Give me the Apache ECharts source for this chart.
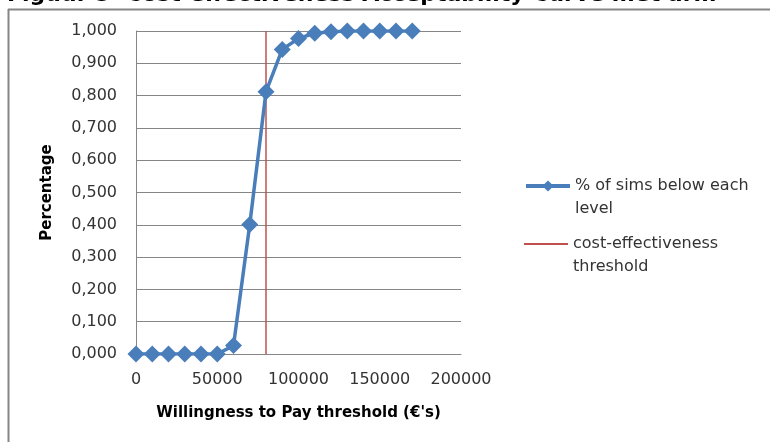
<!DOCTYPE html>
<html>
<head>
<meta charset="utf-8">
<script src="https://cdn.jsdelivr.net/npm/echarts@6/dist/echarts.min.js"></script>
<style>
  html, body { margin: 0; padding: 0; background: #fff; }
  #chart { width: 770px; height: 442px; }
</style>
</head>
<body>
<div id="chart"></div>
<script>
// willingness to pay thresholds (euro)
var wtp = [0, 10000, 20000, 30000, 40000, 50000, 60000, 70000, 80000, 90000,
           100000, 110000, 120000, 130000, 140000, 150000, 160000, 170000];
// share of simulations below each level
var pctBelow = [0, 0, 0, 0, 0, 0, 0.026, 0.401, 0.812, 0.943,
                0.977, 0.993, 0.998, 1, 1, 1, 1, 1];
var thresholdX = [80000, 80000];
var thresholdY = [0, 1];
var xTicks = [0, 50000, 100000, 150000, 200000];

var seriesNames = ['% of sims below each level', 'cost-effectiveness threshold'];
// leading empty line keeps the first text line level with the legend icon
var legendText = {};
legendText[seriesNames[0]] = '\n% of sims below each\nlevel';
legendText[seriesNames[1]] = '\ncost-effectiveness\nthreshold';

var fontName = 'DejaVu Sans';
var txtColor = '#333';

var myChart = echarts.init(document.getElementById('chart'), null, { renderer: 'canvas' });

function legendFor(name, top, icon, h, lw) {
    return {
        data: [{ name: name, icon: icon }],
        left: 524,
        top: top,
        padding: 0,
        itemWidth: 44,
        itemHeight: h,
        lineStyle: { width: lw },
        formatter: function (n) { return legendText[n]; },
        textStyle: {
            fontFamily: fontName,
            fontSize: 16,
            color: txtColor,
            lineHeight: 23
        }
    };
}

var option = {
    backgroundColor: '#fff',
    animation: false,
    graphic: [
        {
            type: 'text',
            left: 7,
            top: -16,
            style: {
                text: 'Figuur 5  Cost-effectiveness Acceptability Curve met arm',
                font: 'bold 22px ' + fontName,
                fill: '#000'
            }
        },
        {
            type: 'line',
            shape: { x1: 8, y1: 9.5, x2: 770, y2: 9.5 },
            style: { stroke: '#868686', lineWidth: 2 }
        },
        {
            type: 'line',
            shape: { x1: 8.5, y1: 9, x2: 8.5, y2: 442 },
            style: { stroke: '#868686', lineWidth: 2 }
        }
    ],
    grid: {
        left: 136,
        right: 309,
        top: 31,
        bottom: 88,
        containLabel: false
    },
    legend: [
        legendFor(seriesNames[0], 151.5, undefined, 14, 4),
        legendFor(seriesNames[1], 209.5, 'rect', 2, 2)
    ],
    xAxis: {
        type: 'value',
        min: xTicks[0],
        max: xTicks[xTicks.length - 1],
        interval: xTicks[1] - xTicks[0],
        name: 'Willingness to Pay threshold (€\'s)',
        nameLocation: 'middle',
        nameGap: 52,
        nameTextStyle: { fontFamily: fontName, fontSize: 15, fontWeight: 'bold', color: '#000' },
        axisLine: { show: true, lineStyle: { color: '#868686', width: 1 } },
        axisTick: { show: false },
        splitLine: { show: false },
        axisLabel: {
            fontFamily: fontName, fontSize: 16, color: txtColor, margin: 18,
            formatter: function (v) { return String(v); }
        }
    },
    yAxis: {
        type: 'value',
        min: 0,
        max: 1,
        interval: 0.1,
        name: 'Percentage',
        nameLocation: 'middle',
        nameGap: 81,
        nameRotate: 90,
        nameTextStyle: { fontFamily: fontName, fontSize: 15, fontWeight: 'bold', color: '#000' },
        axisLine: { show: true, lineStyle: { color: '#868686', width: 1 } },
        axisTick: { show: false },
        splitLine: { show: true, lineStyle: { color: '#868686', width: 1 } },
        axisLabel: {
            fontFamily: fontName, fontSize: 16, color: txtColor, margin: 19,
            formatter: function (v) { return v.toFixed(3).replace('.', ','); }
        }
    },
    series: [
        {
            name: seriesNames[0],
            type: 'line',
            data: wtp.map(function (x, i) { return [x, pctBelow[i]]; }),
            symbol: 'diamond',
            symbolSize: 17,
            lineStyle: { color: '#4A7EBB', width: 3.5 },
            itemStyle: { color: '#4A7EBB' },
            z: 3
        },
        {
            name: seriesNames[1],
            type: 'line',
            data: thresholdX.map(function (x, i) { return [x, thresholdY[i]]; }),
            symbol: 'none',
            lineStyle: { color: '#C0504D', width: 1.5 },
            itemStyle: { color: '#C0504D' },
            z: 2
        }
    ]
};

myChart.setOption(option);
</script>
</body>
</html>
